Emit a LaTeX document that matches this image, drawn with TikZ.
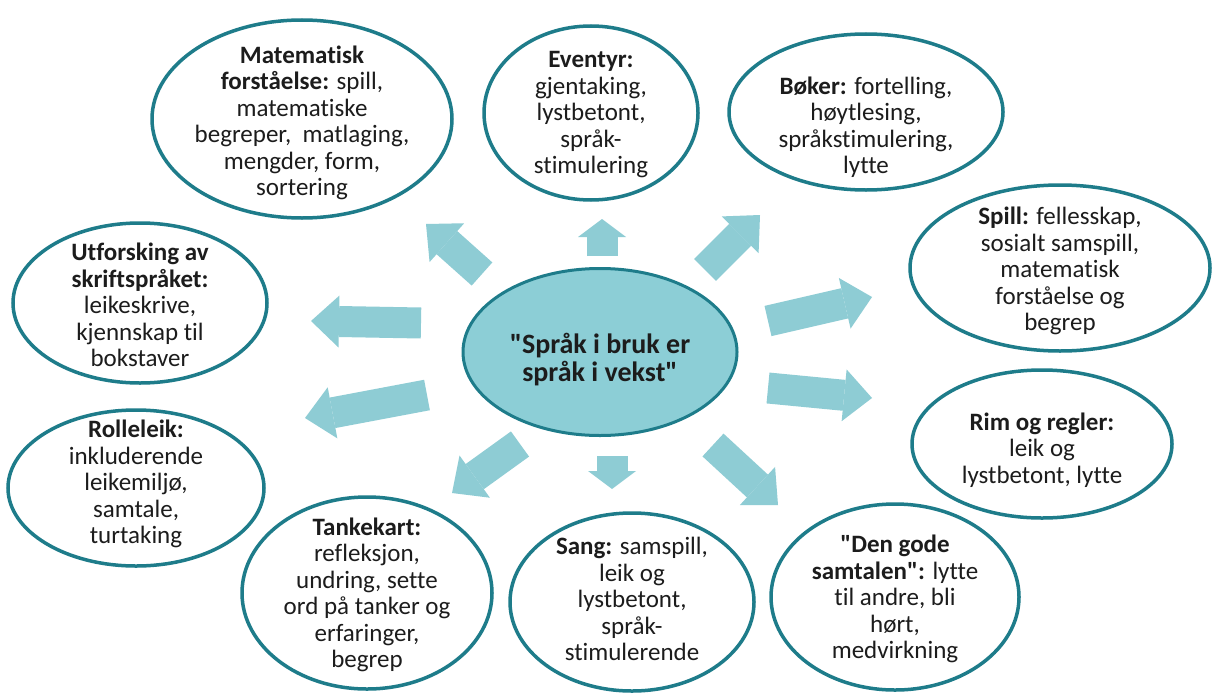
\documentclass[tikz,border=0pt]{standalone}
\usepackage{fontspec}
\newfontfamily\basefont{Carlito}[Ligatures={NoCommon}]
\usetikzlibrary{arrows.meta,shapes.geometric}
\definecolor{rimfarge}{RGB}{30,124,138}
\definecolor{pilfarge}{RGB}{142,204,212}
\definecolor{kjerne}{RGB}{140,206,214}
\definecolor{tekst}{RGB}{28,28,28}
\begin{document}
\begin{tikzpicture}[x=1pt,y=-1pt,
  bubble/.style={ellipse, draw=rimfarge, line width=3.5pt, inner sep=0pt, fill=white},
  centre/.style={ellipse, draw=rimfarge, line width=3pt, inner sep=0pt, fill=kjerne},
  txt/.style={align=center, font=\basefont\fontsize{25}{26.5}\selectfont, text=tekst, inner sep=0pt},
  bigtxt/.style={align=center, font=\basefont\bfseries\fontsize{28}{28}\selectfont, text=tekst, inner sep=0pt},
  longarrow/.style={draw=pilfarge, line width=31pt, -{Triangle[length=28pt,width=52pt,line width=0pt]}},
  shortarrow/.style={draw=pilfarge, line width=31pt, -{Triangle[length=18pt,width=48pt,line width=0pt]}}
]
\fill[white] (0,0) rectangle (1214,693);
\useasboundingbox (0,0) rectangle (1214,693);

% centre
\node[centre, minimum width=274pt, minimum height=167pt] (c) at (600,352) {};
\node[bigtxt] (ct) at (600,360) {"Språk i bruk er\\språk i vekst"};

% outer bubbles
\node[bubble, minimum width=300pt, minimum height=198pt] (m1) at (302,119) {};
\node[txt] (t1) at (302,123) {\textbf{Matematisk}\\\textbf{forståelse:} spill,\\matematiske\\begreper,\ \ matlaging,\\mengder, form,\\sortering};

\node[bubble, minimum width=214pt, minimum height=174pt] (m2) at (591,113) {};
\node[txt] (t2) at (591,115) {\textbf{Eventyr:}\\gjentaking,\\lystbetont,\\språk-\\stimulering};

\node[bubble, minimum width=274pt, minimum height=156pt] (m3) at (866,112) {};
\node[txt] (t3) at (866,127) {\textbf{Bøker:} fortelling,\\høytlesing,\\språkstimulering,\\lytte};

\node[bubble, minimum width=300pt, minimum height=166pt] (m4) at (1060,268) {};
\node[txt] (t4) at (1060,271) {\textbf{Spill:} fellesskap,\\sosialt samspill,\\matematisk\\forståelse og\\begrep};

\node[bubble, minimum width=254pt, minimum height=160pt] (m5) at (140,303) {};
\node[txt] (t5) at (140,305) {\textbf{Utforsking av}\\\textbf{skriftspråket:}\\leikeskrive,\\kjennskap til\\bokstaver};

\node[bubble, minimum width=256pt, minimum height=156pt] (m6) at (136,488) {};
\node[txt] (t6) at (136,484) {\textbf{Rolleleik:}\\inkluderende\\leikemiljø,\\samtale,\\turtaking};

\node[bubble, minimum width=250pt, minimum height=192pt] (m7) at (367,593) {};
\node[txt] (t7) at (367,595) {\textbf{Tankekart:}\\refleksjon,\\undring, sette\\ord på tanker og\\erfaringer,\\begrep};

\node[bubble, minimum width=244pt, minimum height=178pt] (m8) at (632,602) {};
\node[txt] (t8) at (632,599) {\textbf{Sang:} samspill,\\leik og\\lystbetont,\\språk-\\stimulerende};

\node[bubble, minimum width=248pt, minimum height=186pt] (m9) at (895,597) {};
\node[txt] (t9) at (895,599) {\textbf{"Den gode}\\\textbf{samtalen":} lytte\\til andre, bli\\hørt,\\medvirkning};

\node[bubble, minimum width=260pt, minimum height=148pt] (m10) at (1042,444) {};
\node[txt] (t10) at (1042,450) {\textbf{Rim og regler:}\\leik og\\lystbetont, lytte};

% arrow end points
\coordinate (a1s) at (482,274); \coordinate (a1e) at (426,224);
\coordinate (a2s) at (602,256); \coordinate (a2e) at (602,219);
\coordinate (a3s) at (705,270); \coordinate (a3e) at (760,215);
\coordinate (a4s) at (768,321); \coordinate (a4e) at (872,297);
\coordinate (a5s) at (768,388); \coordinate (a5e) at (872,398);
\coordinate (a6s) at (421,323); \coordinate (a6e) at (311,321);
\coordinate (a7s) at (427,395); \coordinate (a7e) at (305,418);
\coordinate (a8s) at (520,444); \coordinate (a8e) at (452,493);
\coordinate (a9s) at (612,456); \coordinate (a9e) at (612,489);
\coordinate (a10s) at (713,445); \coordinate (a10e) at (778,505);

\draw[longarrow] (a1s) -- (a1e);
\draw[shortarrow] (a2s) -- (a2e);
\draw[longarrow] (a3s) -- (a3e);
\draw[longarrow] (a4s) -- (a4e);
\draw[longarrow] (a5s) -- (a5e);
\draw[longarrow] (a6s) -- (a6e);
\draw[longarrow] (a7s) -- (a7e);
\draw[longarrow] (a8s) -- (a8e);
\draw[shortarrow] (a9s) -- (a9e);
\draw[longarrow] (a10s) -- (a10e);
\end{tikzpicture}
\end{document}
